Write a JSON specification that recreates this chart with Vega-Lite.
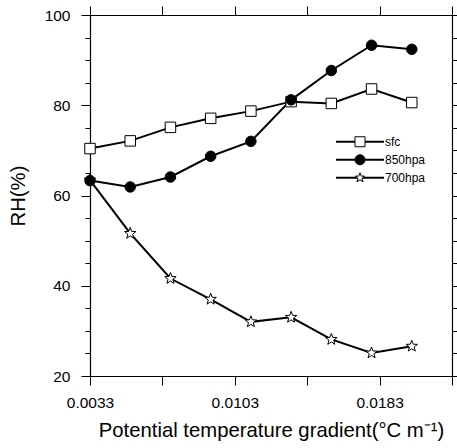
{
  "$schema": "https://vega.github.io/schema/vega-lite/v6.json",
  "width": 362,
  "height": 361,
  "autosize": "none",
  "padding": {"left": 90, "top": 15, "right": 5, "bottom": 72},
  "config": {
    "view": {"stroke": null},
    "font": "Liberation Sans",
    "axis": {"grid": false, "domainColor": "black", "domainWidth": 1.2, "tickColor": "black", "tickWidth": 1, "labelColor": "black", "titleColor": "black", "labelFont": "Liberation Sans", "titleFont": "Liberation Sans", "titleFontWeight": "normal", "labelFontSize": 15.5, "titleFontSize": 20.3}
  },
  "data": {
    "values": [
      {"grad": 0.0033, "series": "700hpa", "rh": 63.4},
      {"grad": 0.0053, "series": "700hpa", "rh": 51.6},
      {"grad": 0.0073, "series": "700hpa", "rh": 41.6},
      {"grad": 0.0093, "series": "700hpa", "rh": 37.0},
      {"grad": 0.0113, "series": "700hpa", "rh": 32.0},
      {"grad": 0.0133, "series": "700hpa", "rh": 33.0},
      {"grad": 0.0153, "series": "700hpa", "rh": 28.1},
      {"grad": 0.0173, "series": "700hpa", "rh": 25.1},
      {"grad": 0.0193, "series": "700hpa", "rh": 26.6},
      {"grad": 0.0033, "series": "sfc", "rh": 70.4},
      {"grad": 0.0053, "series": "sfc", "rh": 72.1},
      {"grad": 0.0073, "series": "sfc", "rh": 75.1},
      {"grad": 0.0093, "series": "sfc", "rh": 77.1},
      {"grad": 0.0113, "series": "sfc", "rh": 78.7},
      {"grad": 0.0133, "series": "sfc", "rh": 80.8},
      {"grad": 0.0153, "series": "sfc", "rh": 80.4},
      {"grad": 0.0173, "series": "sfc", "rh": 83.6},
      {"grad": 0.0193, "series": "sfc", "rh": 80.6},
      {"grad": 0.0033, "series": "850hpa", "rh": 63.3},
      {"grad": 0.0053, "series": "850hpa", "rh": 61.9},
      {"grad": 0.0073, "series": "850hpa", "rh": 64.1},
      {"grad": 0.0093, "series": "850hpa", "rh": 68.7},
      {"grad": 0.0113, "series": "850hpa", "rh": 72.0},
      {"grad": 0.0133, "series": "850hpa", "rh": 81.2},
      {"grad": 0.0153, "series": "850hpa", "rh": 87.7},
      {"grad": 0.0173, "series": "850hpa", "rh": 93.3},
      {"grad": 0.0193, "series": "850hpa", "rh": 92.4}
    ]
  },
  "resolve": {"axis": {"x": "independent", "y": "independent"}},
  "layer": [
    {
      "mark": {"type": "line", "strokeWidth": 2},
      "encoding": {
        "x": {"field": "grad", "type": "quantitative", "scale": {"domain": [0.0033, 0.0213], "nice": false, "zero": false},
          "axis": {"orient": "bottom", "values": [0.0033, 0.0069, 0.0105, 0.0141, 0.0177, 0.0213], "labelExpr": "datum.value < 0.004 ? '0.0033' : (datum.value > 0.010 && datum.value < 0.011) ? '0.0103' : (datum.value > 0.017 && datum.value < 0.018) ? '0.0183' : ''", "tickSize": 9, "labelPadding": 10, "labelFlush": false, "labelOverlap": false, "title": "Potential temperature gradient(°C m⁻¹)", "titlePadding": 10}},
        "y": {"field": "rh", "type": "quantitative", "scale": {"domain": [20, 100], "nice": false, "zero": false},
          "axis": {"orient": "left", "values": [20, 25, 30, 35, 40, 45, 50, 55, 60, 65, 70, 75, 80, 85, 90, 95, 100], "labelExpr": "datum.value % 20 === 0 ? datum.label : ''", "tickSize": {"condition": {"test": "datum.value % 20 === 0", "value": 9}, "value": 5}, "labelPadding": 11, "labelOverlap": false, "labelFlush": false, "title": "RH(%)", "titlePadding": 16}},
        "stroke": {"field": "series", "type": "nominal",
          "scale": {"domain": ["sfc", "850hpa", "700hpa"], "range": ["black", "black", "black"]},
          "legend": {"orient": "none", "legendX": 245, "legendY": 119, "title": null, "padding": 0, "symbolType": "stroke", "symbolSize": 2304, "symbolStrokeWidth": 2, "clipHeight": 15.5, "rowPadding": 2, "labelOffset": 0, "labelFont": "Liberation Sans", "labelFontSize": 12, "labelColor": "black"}}
      }
    },
    {
      "mark": {"type": "point", "filled": true, "strokeWidth": 1, "opacity": 1},
      "encoding": {
        "x": {"field": "grad", "type": "quantitative",
          "axis": {"orient": "top", "values": [0.0033, 0.0069, 0.0105, 0.0141, 0.0177, 0.0213], "labels": false, "tickSize": 9, "title": null}},
        "y": {"field": "rh", "type": "quantitative",
          "axis": {"orient": "right", "values": [20, 25, 30, 35, 40, 45, 50, 55, 60, 65, 70, 75, 80, 85, 90, 95, 100], "labels": false, "tickSize": 5, "title": null}},
        "shape": {"field": "series", "type": "nominal",
          "scale": {"domain": ["700hpa", "850hpa", "sfc"], "range": ["M0,-1L0.247,-0.34L0.951,-0.309L0.399,0.13L0.588,0.809L0,0.42L-0.588,0.809L-0.399,0.13L-0.951,-0.309L-0.247,-0.34Z", "circle", "square"]},
          "legend": {"orient": "none", "legendX": 264, "legendY": 119, "values": ["sfc", "850hpa", "700hpa"], "title": null, "padding": 0, "symbolSize": 100, "symbolStrokeWidth": 1, "clipHeight": 15.5, "rowPadding": 2, "labelOffset": 2, "labelFontSize": 12, "labelExpr": "''"}},
        "fill": {"field": "series", "type": "nominal",
          "scale": {"domain": ["700hpa", "850hpa", "sfc"], "range": ["white", "black", "white"]},
          "legend": {"orient": "none", "legendX": 264, "legendY": 119, "values": ["sfc", "850hpa", "700hpa"], "title": null, "padding": 0, "symbolSize": 100, "symbolStrokeWidth": 1, "clipHeight": 15.5, "rowPadding": 2, "labelOffset": 2, "labelFontSize": 12, "labelExpr": "''"}},
        "stroke": {"value": "black"},
        "size": {"condition": {"test": "datum.series === '700hpa'", "value": 144}, "value": 110}
      }
    }
  ]
}
